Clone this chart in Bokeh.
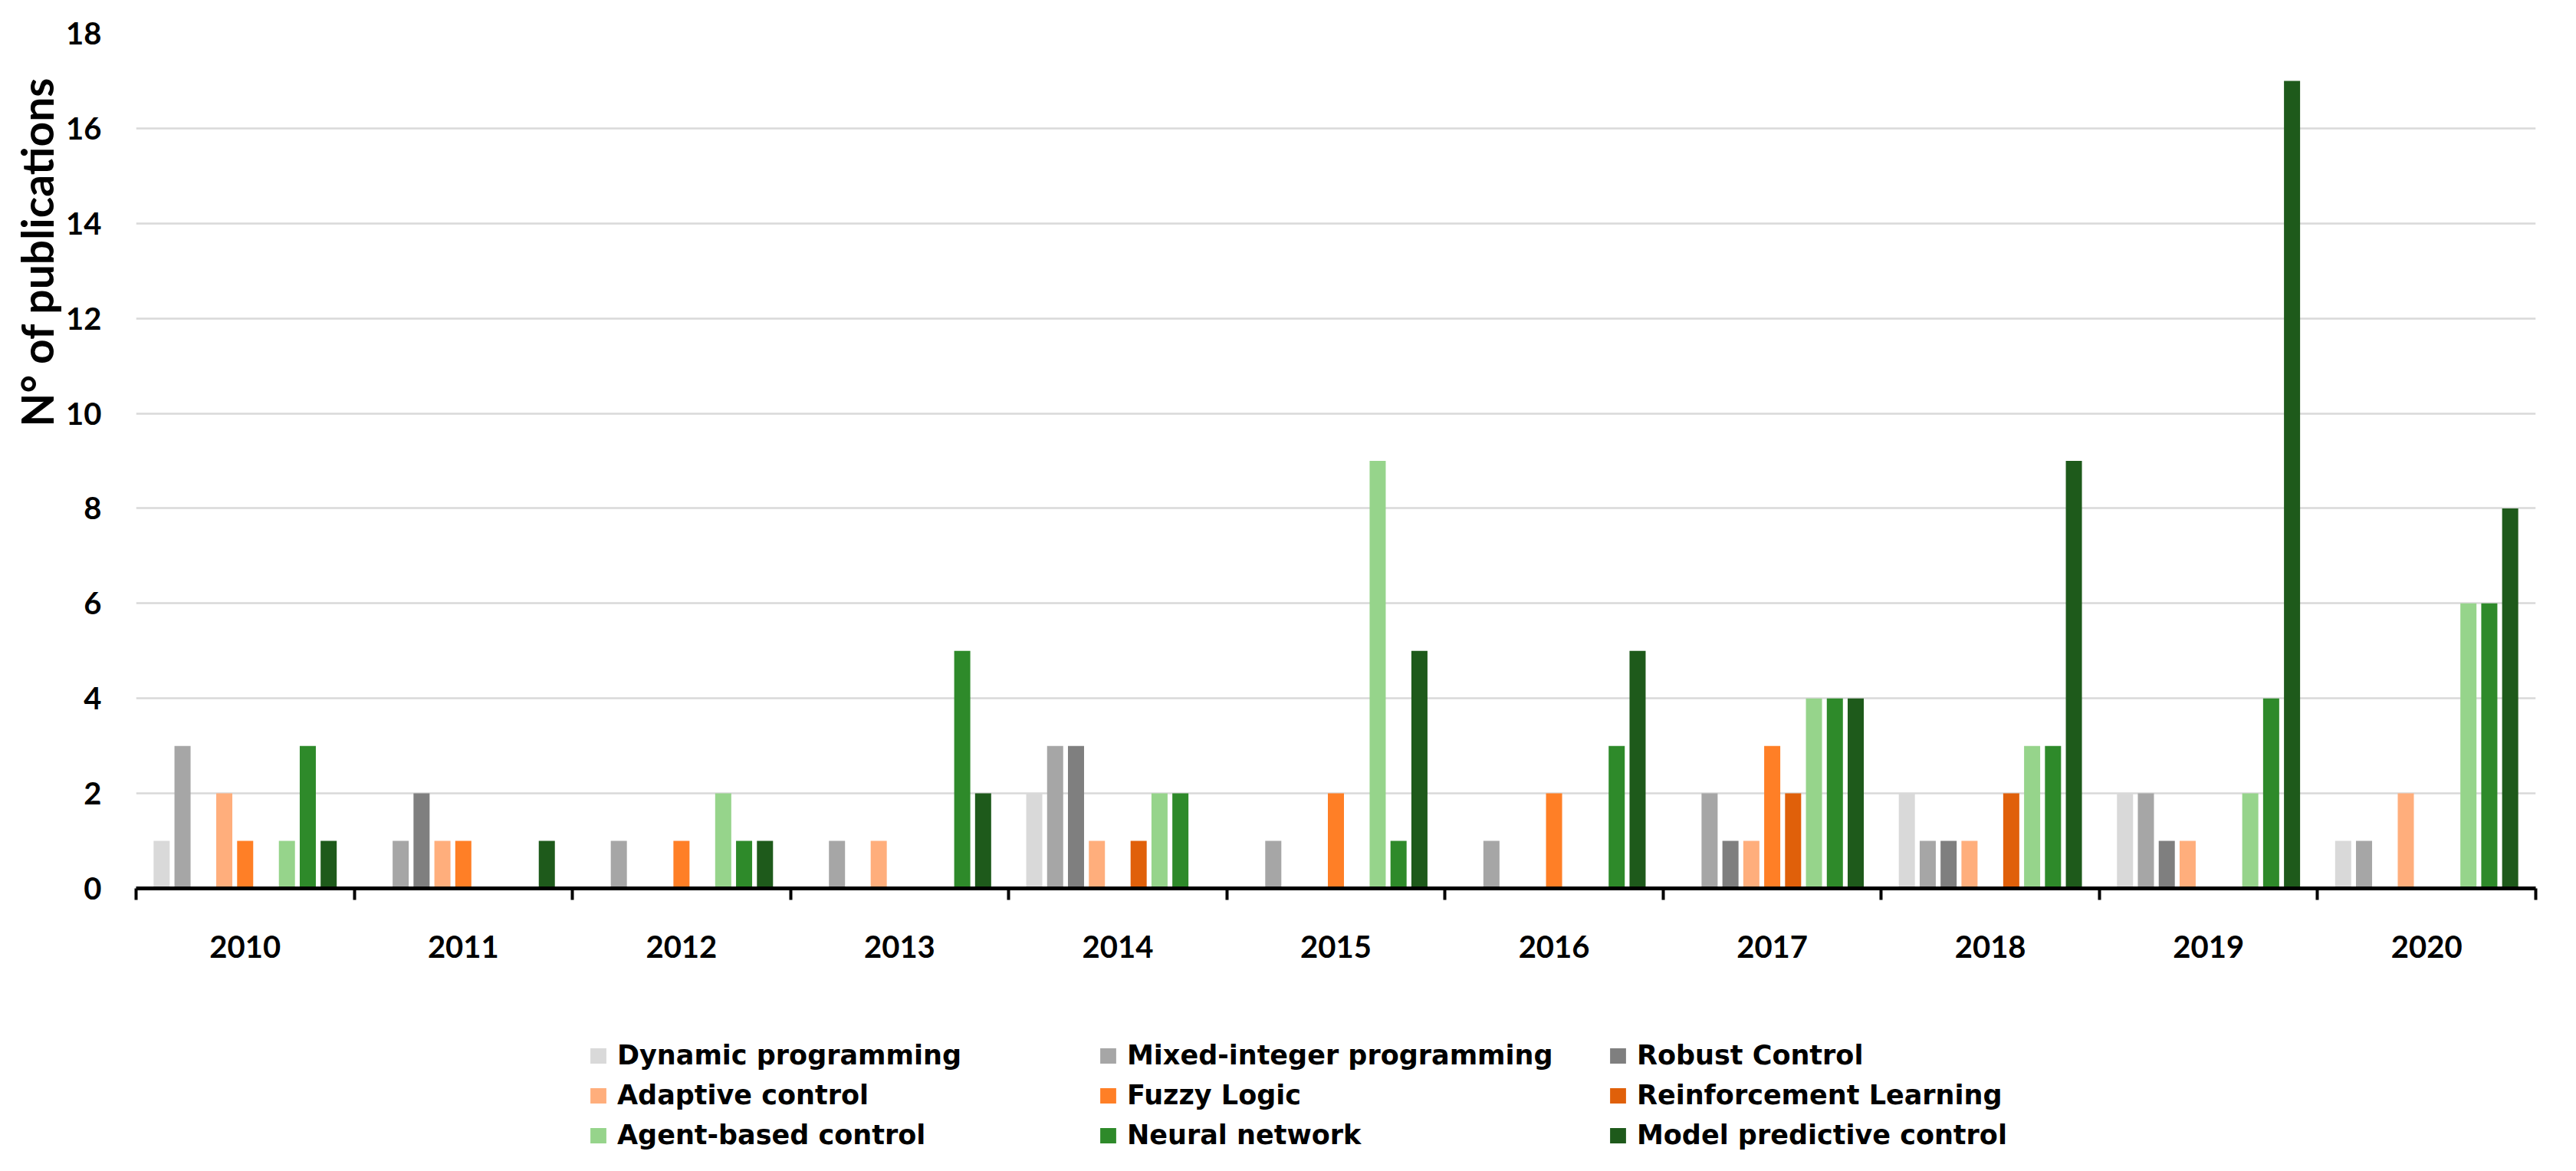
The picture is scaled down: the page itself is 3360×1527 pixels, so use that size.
from bokeh.plotting import figure
from bokeh.models import (ColumnDataSource, Range1d, FixedTicker, Legend, LegendItem, Title)
from bokeh.layouts import column
from bokeh.transform import dodge
from bokeh.embed import file_html
from bokeh.resources import INLINE

years = ["2010", "2011", "2012", "2013", "2014", "2015", "2016", "2017", "2018", "2019", "2020"]

series_names = ["Dynamic programming", "Mixed-integer programming", "Robust Control",
                "Adaptive control", "Fuzzy Logic", "Reinforcement Learning",
                "Agent-based control", "Neural network", "Model predictive control"]

dynamic_programming = [1, 0, 0, 0, 2, 0, 0, 0, 2, 2, 1]
mixed_integer = [3, 1, 1, 1, 3, 1, 1, 2, 1, 2, 1]
robust_control = [0, 2, 0, 0, 3, 0, 0, 1, 1, 1, 0]
adaptive_control = [2, 1, 0, 1, 1, 0, 0, 1, 1, 1, 2]
fuzzy_logic = [1, 1, 1, 0, 0, 2, 2, 3, 0, 0, 0]
reinforcement_learning = [0, 0, 0, 0, 1, 0, 0, 2, 2, 0, 0]
agent_based = [1, 0, 2, 0, 2, 9, 0, 4, 3, 2, 6]
neural_network = [3, 0, 1, 5, 2, 1, 3, 4, 3, 4, 6]
model_predictive = [1, 1, 1, 2, 0, 5, 5, 4, 9, 17, 8]

y_ticks = [0, 2, 4, 6, 8, 10, 12, 14, 16, 18]

colors = ["#d9d9d9", "#a6a6a6", "#7f7f7f",
          "#ffae7c", "#ff7f26", "#e0600a",
          "#96d48b", "#2e8a2a", "#1e5a1b"]

all_series = [dynamic_programming, mixed_integer, robust_control,
              adaptive_control, fuzzy_logic, reinforcement_learning,
              agent_based, neural_network, model_predictive]

keys = ["s%d" % i for i in range(len(all_series))]
data = {"xc": [i + 0.5 for i in range(len(years))]}
for k, s in zip(keys, all_series):
    data[k] = s
source = ColumnDataSource(data)

W = 3344
H_MAIN = 1290
H_LEG = 221

p = figure(width=W, height=H_MAIN, output_backend="svg", toolbar_location=None,
           x_range=Range1d(0, len(years)), y_range=Range1d(0, 18),
           min_border_left=177, min_border_right=37, min_border_top=43,
           min_border_bottom=H_MAIN - 1158)
p.outline_line_color = None
p.background_fill_color = "white"
p.border_fill_color = "white"

slot = 0.0957
bar_w = 0.0738
for j, (k, c) in enumerate(zip(keys, colors)):
    p.vbar(x=dodge("xc", (j - 4) * slot, range=p.x_range), top=k, width=bar_w,
           source=source, fill_color=c, line_color=None)

# grid
p.xgrid.visible = False
p.ygrid.grid_line_color = "#d9d9d9"
p.ygrid.grid_line_width = 2.5

# y axis
p.yaxis.ticker = FixedTicker(ticks=y_ticks)
p.yaxis.axis_line_color = None
p.yaxis.major_tick_line_color = None
p.yaxis.minor_tick_line_color = None
p.yaxis.major_tick_out = 0
p.yaxis.major_label_standoff = 45
p.yaxis.major_label_text_font = "Lato"
p.yaxis.major_label_text_font_style = "bold"
p.yaxis.major_label_text_font_size = "40px"
p.yaxis.major_label_text_color = "black"

# x axis: labels at centers, ticks at boundaries
p.xaxis.ticker = FixedTicker(ticks=[i + 0.5 for i in range(len(years))],
                             minor_ticks=list(range(len(years) + 1)))
p.xaxis.major_label_overrides = {i + 0.5: y for i, y in enumerate(years)}
p.xaxis.major_tick_line_color = None
p.xaxis.major_tick_out = 0
p.xaxis.major_tick_in = 0
p.xaxis.minor_tick_out = 15
p.xaxis.minor_tick_in = 0
p.xaxis.minor_tick_line_width = 4
p.xaxis.minor_tick_line_color = "black"
p.xaxis.axis_line_width = 5
p.xaxis.axis_line_color = "black"
p.xaxis.major_label_standoff = 46
p.xaxis.major_label_text_font = "Lato"
p.xaxis.major_label_text_font_style = "bold"
p.xaxis.major_label_text_font_size = "40px"
p.xaxis.major_label_text_color = "black"

# y axis title (placed towards the top, as in the reference)
ytitle = Title(text="N° of publications", align="right", offset=57, standoff=4,
               text_font="Lato", text_font_style="bold", text_font_size="57px",
               text_color="black")
p.add_layout(ytitle, "left")

# legend figure below
p2 = figure(width=W, height=H_LEG, output_backend="svg", toolbar_location=None,
            x_range=Range1d(0, 1), y_range=Range1d(0, 1),
            x_axis_type=None, y_axis_type=None,
            min_border_left=0, min_border_right=0, min_border_top=0, min_border_bottom=0)
p2.outline_line_color = None
p2.background_fill_color = "white"
p2.border_fill_color = "white"

# legend-only renderers (zero-height, outside the visible range)
items = []
for name, c in zip(series_names, colors):
    r = p2.vbar(x=[-5], top=[0], width=0.1, fill_color=c, line_color=None)
    items.append(LegendItem(label=name, renderers=[r]))

legend = Legend(items=items, orientation="horizontal", ncols=3,
                location=(590, 5), glyph_width=26, glyph_height=25,
                label_standoff=12, label_width=627, label_height=52, spacing=0,
                padding=0, margin=0, border_line_color=None, background_fill_alpha=0,
                label_text_font="DejaVu Sans", label_text_font_style="bold",
                label_text_font_size="35px", label_text_color="black")
p2.add_layout(legend, "center")

layout = column(p, p2, spacing=0)
open("out.html", "w").write(file_html(layout, INLINE))
